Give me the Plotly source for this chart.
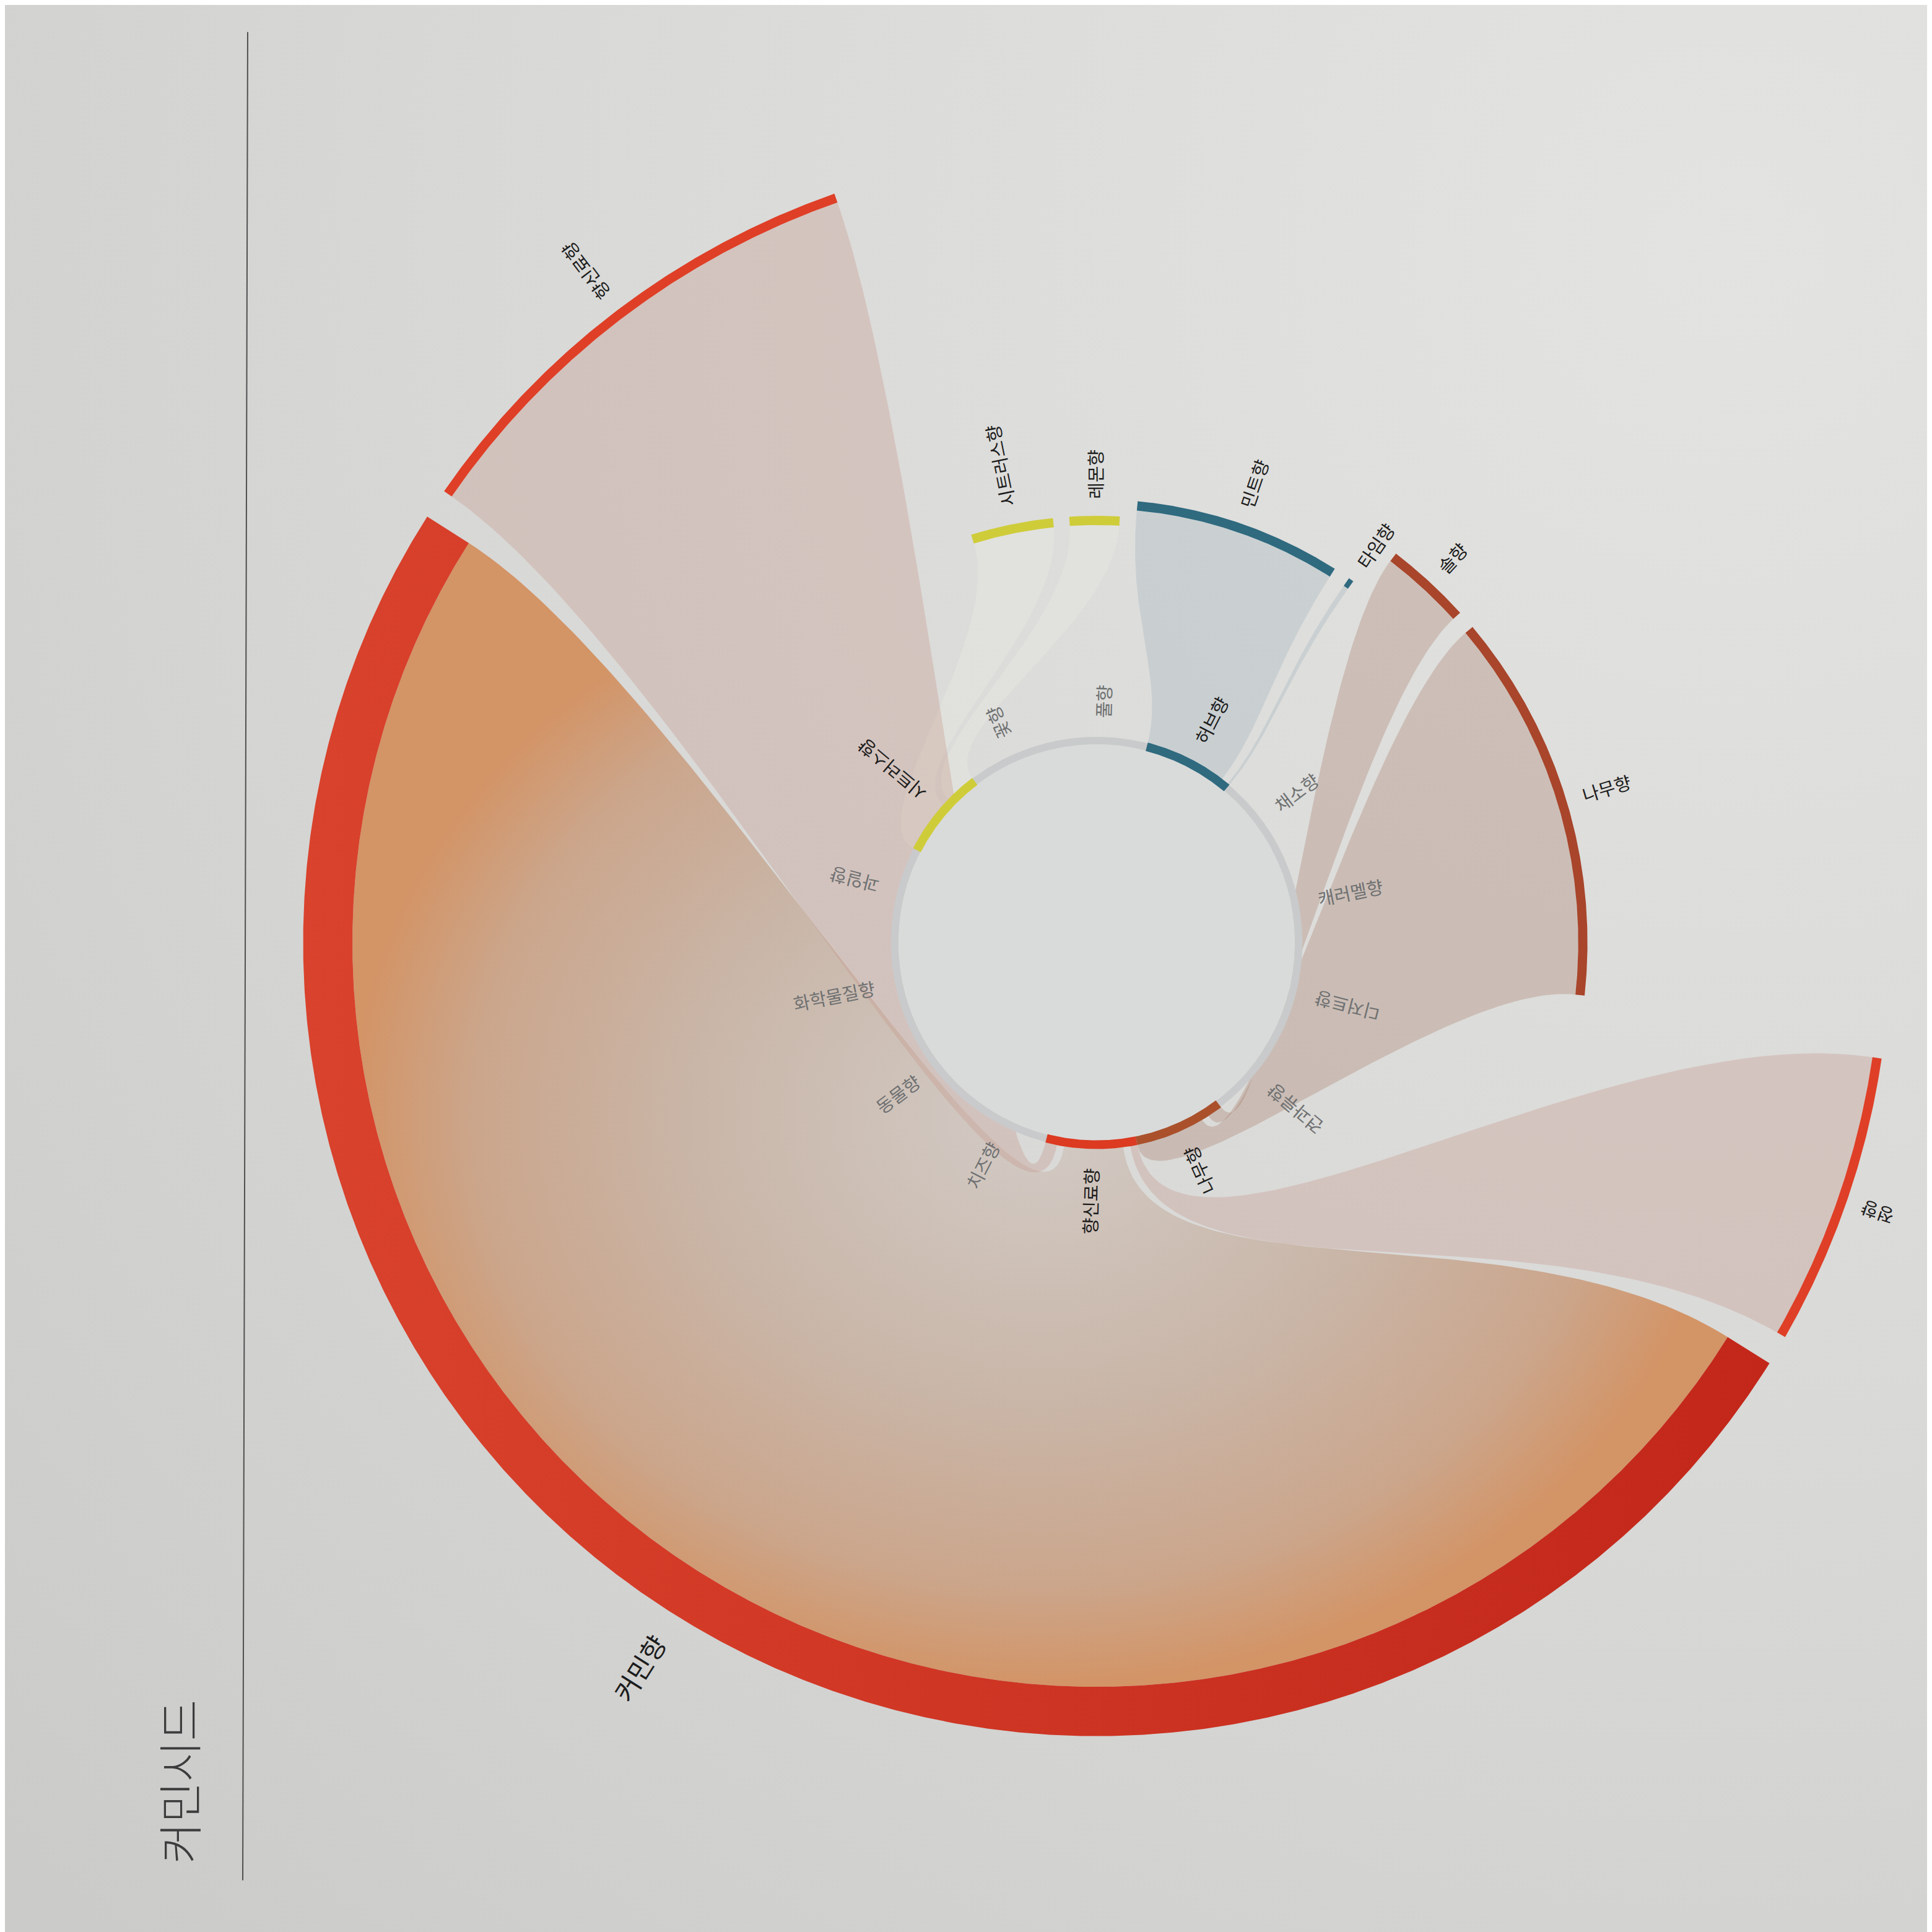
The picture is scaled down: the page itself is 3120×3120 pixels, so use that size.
import numpy as np
import plotly.graph_objects as go

# ---------------- data ----------------
inner_categories = ['풀향', '허브향', '채소향', '캐러멜향', '디저트향', '견과류향', '나무향',
                    '향신료향', '치즈향', '동물향', '화학물질향', '과일향', '시트러스향', '꽃향']
note_names = ['나무향', '솔향', '타임향', '민트향', '레몬향', '시트러스향', '향신료향', '커민향', '정향']
note_groups = ['나무향', '나무향', '허브향', '허브향', '시트러스향', '시트러스향', '향신료향', '향신료향', '향신료향']
note_values = [13.6, 3.0, 0.2, 8.0, 2.0, 3.3, 10.6, 53.1, 6.3]
title_text = '커민시드'
signature_note = '커민향'

# ---------------- layout / style ----------------
SPAN = 1568.0                 # axis units across the square canvas
CX, CY = 886.0, 761.0         # centre of the wheel (axis units)
RING_R_IN, RING_R_OUT = 161.0, 167.0
INNER_FIRST_CENTER = 88.5     # degrees, sectors run clockwise
OUTER_START = -6.2            # degrees, notes run counter-clockwise
GAP_DEG = 2.2
INNER_SUBGAP = 2.0
R_BASE, R_PER_UNIT = 322.0, 4.6
THIN_W, SIG_W = 7.5, 40.0
K_IN, K_OUT = 0.3, 0.48
PX = 3120 / SPAN              # canvas px per axis unit

FONT = 'Noto Sans CJK KR'
GROUP_COLOR = {'나무향': '#a8452b', '허브향': '#2f6a7f', '시트러스향': '#cfcc3a', '향신료향': '#df3f27'}
SEG_COLOR = {'나무향': '#aa512c', '허브향': '#2f6a7f', '시트러스향': '#cfcc3a', '향신료향': '#dc3a21'}
RIBBON_COLOR = {'나무향': 'rgba(170,128,112,0.34)', '허브향': 'rgba(105,140,158,0.17)',
                '시트러스향': 'rgba(240,242,232,0.25)', '향신료향': 'rgba(196,148,138,0.33)'}
RING_GREY = '#c9cacb'
DISK_COLOR = '#d9dbda'
LABEL_ON, LABEL_OFF = '#1c1c1c', '#6f7172'
FS_INNER, FS_OUTER, FS_SIG, FS_TITLE = 29, 29, 42, 72


def pol(r, deg):
    t = np.radians(deg)
    return CX + r * np.cos(t), CY - r * np.sin(t)


def arc_pts(r, a0, a1):
    n = max(6, int(abs(a1 - a0) * 4))
    return pol(r, np.linspace(a0, a1, n))


def band(r_in, r_out, a0, a1):
    xo, yo = arc_pts(r_out, a0, a1)
    xi, yi = arc_pts(r_in, a1, a0)
    return np.r_[xo, xi, xo[:1]], np.r_[yo, yi, yo[:1]]


def cubic(P, n=90):
    t = np.linspace(0, 1, n)
    (x0, y0), (x1, y1), (x2, y2), (x3, y3) = P
    b = [(1 - t) ** 3, 3 * (1 - t) ** 2 * t, 3 * (1 - t) * t ** 2, t ** 3]
    return (b[0] * x0 + b[1] * x1 + b[2] * x2 + b[3] * x3,
            b[0] * y0 + b[1] * y1 + b[2] * y2 + b[3] * y3)


def ribbon(b0, b1, a0, a1, r0, R):
    di, do = K_IN * (R - r0), K_OUT * (R - r0)
    parts = [arc_pts(r0, b0, b1),
             cubic([pol(r0, b1), pol(r0 + di, b1), pol(R - do, a1), pol(R, a1)]),
             arc_pts(R, a1, a0),
             cubic([pol(R, a0), pol(R - do, a0), pol(r0 + di, b0), pol(r0, b0)])]
    xs = np.concatenate([p[0] for p in parts])
    ys = np.concatenate([p[1] for p in parts])
    return xs, ys


def label_angle(theta):
    th = (theta + 180) % 360 - 180
    direction = th if th >= 0 else th + 180
    return -direction


# ---------------- geometry from data ----------------
n_cat = len(inner_categories)
step = 360.0 / n_cat
cat_center = {c: INNER_FIRST_CENTER - i * step for i, c in enumerate(inner_categories)}

total = sum(note_values)
avail = 360.0 - GAP_DEG * len(note_values)
spans = [v / total * avail for v in note_values]
starts = []
a = OUTER_START
for s in spans:
    starts.append(a)
    a += s + GAP_DEG

group_total = {}
group_count = {}
for g, v in zip(note_groups, note_values):
    group_total[g] = group_total.get(g, 0) + v
    group_count[g] = group_count.get(g, 0) + 1
group_R = {g: R_BASE + R_PER_UNIT * t for g, t in group_total.items()}

# inner sub-portions (small gaps between the notes of one group)
inner_sub = {}
for g in group_total:
    usable = step - INNER_SUBGAP * (group_count[g] - 1)
    cur = cat_center[g] - step / 2
    for i, (ng, v) in enumerate(zip(note_groups, note_values)):
        if ng == g:
            w = v / group_total[g] * usable
            inner_sub[i] = (cur, cur + w)
            cur += w + INNER_SUBGAP

fig = go.Figure()

# background wash (lighter top-right)
bx0, by0, half = 1400.0, 200.0, 1900.0
fig.add_trace(go.Scatter(
    x=[bx0 - half, bx0 + half, bx0 + half, bx0 - half, bx0 - half],
    y=[by0 - half, by0 - half, by0 + half, by0 + half, by0 - half],
    fill='toself', mode='lines', line=dict(width=0), hoverinfo='skip',
    fillgradient=dict(type='radial', colorscale=[[0, '#e3e3e1'], [0.5, '#d9d9d7'], [1, '#cbcbca']])))

order = sorted(range(len(note_names)), key=lambda i: 0 if note_names[i] == signature_note else 1)
for i in order:
    g = note_groups[i]
    w = SIG_W if note_names[i] == signature_note else THIN_W
    R = group_R[g] - w
    b0, b1 = inner_sub[i]
    xs, ys = ribbon(b0, b1, starts[i], starts[i] + spans[i], RING_R_OUT, R)
    if note_names[i] == signature_note:
        fig.add_trace(go.Scatter(
            x=xs, y=ys, fill='toself', mode='lines', line=dict(width=0), hoverinfo='skip',
            fillgradient=dict(type='radial', colorscale=[[0, '#d2cbc6'], [0.5, '#c9b6a8'],
                                                         [0.82, '#cba68c'], [1, '#d39466']])))
    else:
        fig.add_trace(go.Scatter(x=xs, y=ys, fill='toself', mode='lines', line=dict(width=0),
                                 fillcolor=RIBBON_COLOR[g], hoverinfo='skip'))

# inner disk and ring
xd, yd = arc_pts(RING_R_IN, 0, 360)
fig.add_trace(go.Scatter(x=xd, y=yd, fill='toself', mode='lines', line=dict(width=0),
                         fillcolor=DISK_COLOR, hoverinfo='skip'))
xs, ys = band(RING_R_IN, RING_R_OUT, 0, 360)
fig.add_trace(go.Scatter(x=xs, y=ys, fill='toself', mode='lines', line=dict(width=0),
                         fillcolor=RING_GREY, hoverinfo='skip'))
for g in group_total:
    c = cat_center[g]
    xs, ys = band(RING_R_IN - 0.5, RING_R_OUT + 0.5, c - step / 2, c + step / 2)
    fig.add_trace(go.Scatter(x=xs, y=ys, fill='toself', mode='lines', line=dict(width=0),
                             fillcolor=SEG_COLOR[g], hoverinfo='skip'))

# outer arcs
for i, name in enumerate(note_names):
    g = note_groups[i]
    sig = name == signature_note
    w = SIG_W if sig else THIN_W
    Ro = group_R[g]
    xs, ys = band(Ro - w, Ro, starts[i], starts[i] + spans[i])
    if sig:
        fig.add_trace(go.Scatter(x=xs, y=ys, fill='toself', mode='lines', line=dict(width=0),
                                 hoverinfo='skip',
                                 fillgradient=dict(type='horizontal',
                                                   colorscale=[[0, '#d9422c'], [1, '#c2271a']])))
    else:
        fig.add_trace(go.Scatter(x=xs, y=ys, fill='toself', mode='lines', line=dict(width=0),
                                 fillcolor=GROUP_COLOR[g], hoverinfo='skip'))

annotations = []
# inner labels
for name in inner_categories:
    th = cat_center[name]
    r = RING_R_OUT + 14 + len(name) * FS_INNER / PX / 2
    x, y = pol(r, th)
    annotations.append(dict(x=x, y=y, xref='x', yref='y', text=name, showarrow=False,
                            textangle=label_angle(th), xanchor='center', yanchor='middle',
                            font=dict(family=FONT, size=FS_INNER,
                                      color=LABEL_ON if name in group_total else LABEL_OFF)))
# outer labels
for i, name in enumerate(note_names):
    th = starts[i] + spans[i] / 2
    fs = FS_SIG if name == signature_note else FS_OUTER
    r = group_R[note_groups[i]] + (20 if name == signature_note else 12) + len(name) * fs / PX / 2
    x, y = pol(r, th)
    annotations.append(dict(x=x, y=y, xref='x', yref='y', text=name, showarrow=False,
                            textangle=label_angle(th), xanchor='center', yanchor='middle',
                            font=dict(family=FONT, size=fs, color='#1c1c1c')))
# title
annotations.append(dict(x=140, y=1442, xref='x', yref='y', text=title_text, showarrow=False,
                        textangle=-90, xanchor='center', yanchor='middle',
                        font=dict(family=FONT, size=FS_TITLE, color='#3c3c3c', weight=300)))

fig.update_layout(
    width=3120, height=3120, margin=dict(l=0, r=0, t=0, b=0),
    paper_bgcolor='#d8d8d6', plot_bgcolor='#d8d8d6', showlegend=False,
    xaxis=dict(range=[0, SPAN], visible=False, fixedrange=True),
    yaxis=dict(range=[SPAN, 0], visible=False, fixedrange=True),
    annotations=annotations,
    shapes=[dict(type='line', xref='x', yref='y', x0=197, y0=22, x1=193, y1=1522,
                 line=dict(color='#505050', width=2))],
)

fig.write_html('out.html')
